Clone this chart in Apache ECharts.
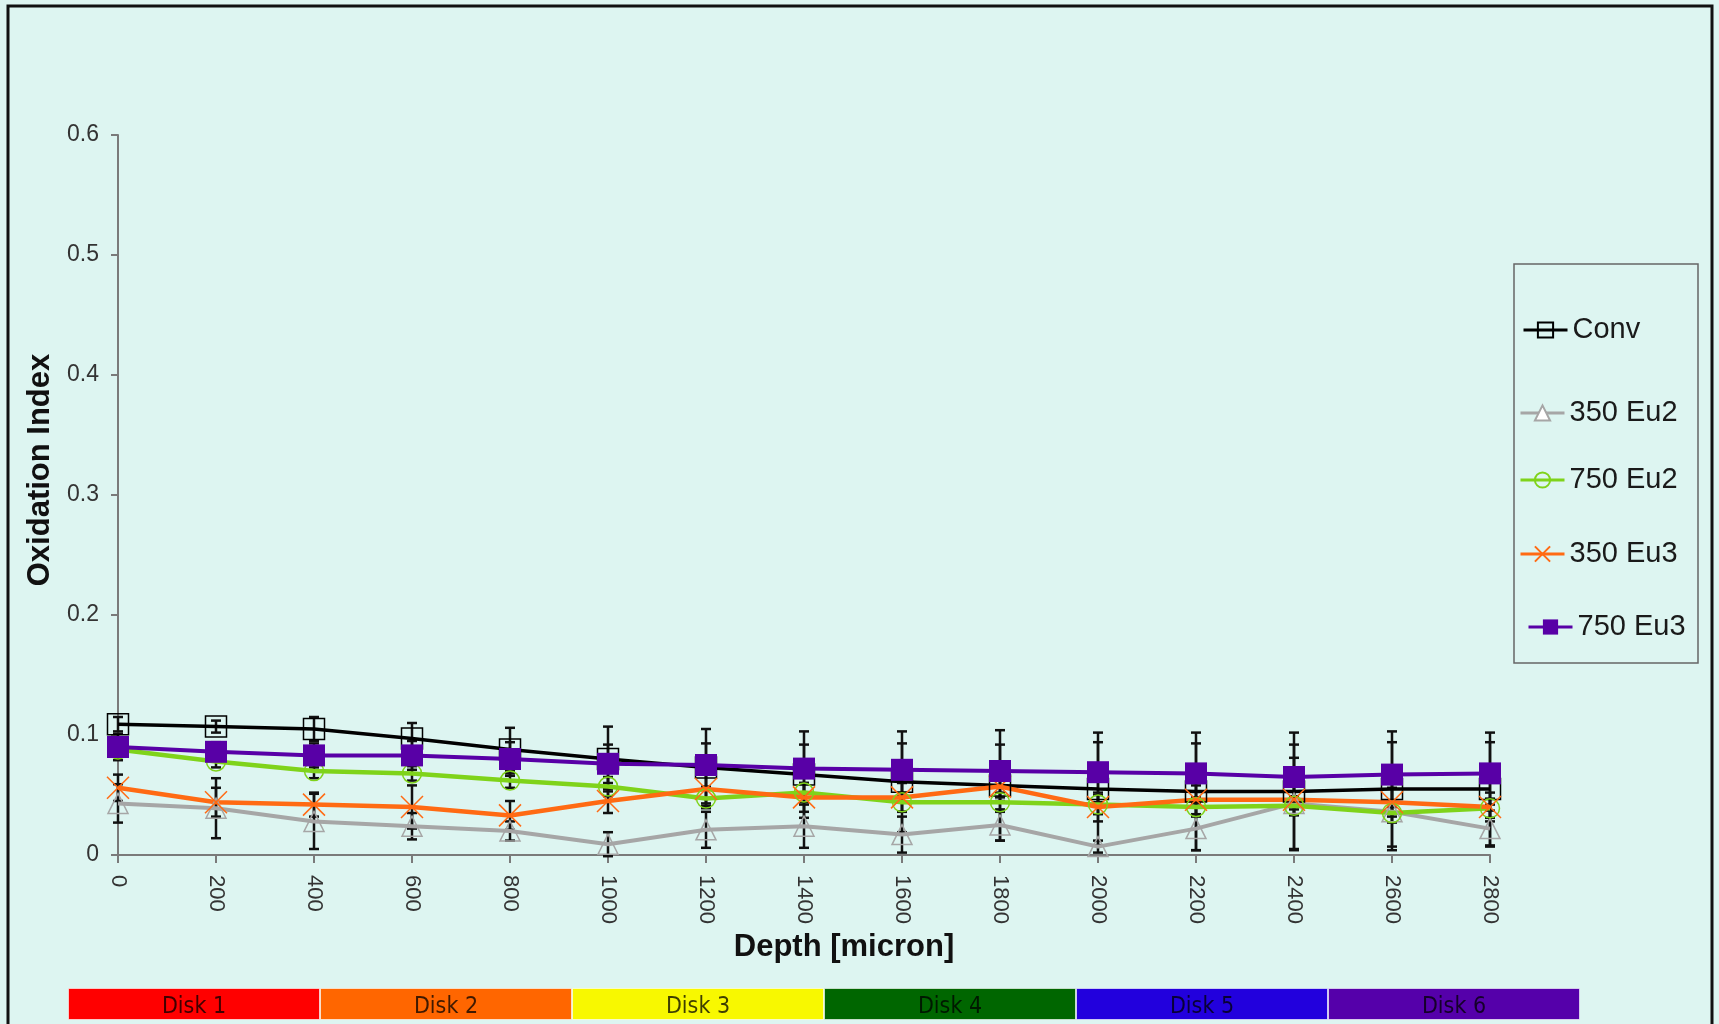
<!DOCTYPE html>
<html>
<head>
<meta charset="utf-8">
<title>Oxidation Index vs Depth</title>
<script src="https://cdn.jsdelivr.net/npm/echarts@6/dist/echarts.min.js"></script>
<style>
  html, body { margin: 0; padding: 0; background: #ddf5f1; }
  #chart { width: 1719px; height: 1024px; }
</style>
</head>
<body>
<div id="chart"></div>
<script>
// depth positions (micron)
const depths = [0, 200, 400, 600, 800, 1000, 1200, 1400, 1600, 1800, 2000, 2200, 2400, 2600, 2800];

// mean oxidation index per series
const conv    = [0.109, 0.107, 0.105, 0.097, 0.088, 0.080, 0.073, 0.067, 0.061, 0.058, 0.055, 0.053, 0.053, 0.055, 0.055];
const eu2_350 = [0.043, 0.039, 0.028, 0.024, 0.020, 0.009, 0.021, 0.024, 0.017, 0.025, 0.007, 0.022, 0.043, 0.036, 0.022];
const eu2_750 = [0.088, 0.078, 0.070, 0.068, 0.062, 0.057, 0.047, 0.052, 0.044, 0.044, 0.042, 0.040, 0.041, 0.035, 0.039];
const eu3_350 = [0.056, 0.044, 0.042, 0.040, 0.033, 0.045, 0.055, 0.048, 0.048, 0.057, 0.040, 0.046, 0.046, 0.044, 0.040];
const eu3_750 = [0.090, 0.086, 0.083, 0.083, 0.080, 0.076, 0.075, 0.072, 0.071, 0.070, 0.069, 0.068, 0.065, 0.067, 0.068];

// +/- error (standard deviation), estimated from the whiskers
const convErr    = [0.006, 0.005, 0.010, 0.013, 0.018, 0.027, 0.032, 0.036, 0.042, 0.046, 0.047, 0.049, 0.049, 0.048, 0.047];
const eu2_350Err = [0.016, 0.025, 0.023, 0.011, 0.008, 0.010, 0.015, 0.018, 0.015, 0.013, 0.005, 0.018, 0.038, 0.032, 0.015];
const eu2_750Err = [0.004, 0.005, 0.006, 0.006, 0.006, 0.008, 0.008, 0.008, 0.008, 0.008, 0.008, 0.008, 0.008, 0.008, 0.008];
const eu3_350Err = [0.011, 0.012, 0.010, 0.018, 0.012, 0.010, 0.012, 0.012, 0.012, 0.012, 0.012, 0.012, 0.012, 0.012, 0.012];
const eu3_750Err = [0.011, 0.008, 0.010, 0.012, 0.014, 0.016, 0.018, 0.020, 0.022, 0.022, 0.025, 0.025, 0.027, 0.027, 0.026];

const seriesNames = ['Conventional', '350 Eu2', '750 Eu2', '350 Eu3', '750 Eu3'];

// disk strip under the axis
const diskLabels = ['Disk 1', 'Disk 2', 'Disk 3', 'Disk 4', 'Disk 5', 'Disk 6'];
const diskColors = ['#ff0000', '#ff6600', '#f8f800', '#006600', '#2200dd', '#5500aa'];

const FONT = "'Liberation Sans', Arial, Helvetica, sans-serif";
const NARROW = "'Liberation Sans Narrow', 'DejaVu Sans Condensed', 'Arial Narrow', sans-serif";
const CROSS = 'path://M0,0L20,20M20,0L0,20';

const styles = [
    { color: '#000000', symbol: 'rect', size: 21, width: 3.5, fill: 'rgba(0,0,0,0)', border: 1.5 },
    { color: '#a6a6a6', symbol: 'triangle', size: 20, width: 4, fill: 'rgba(0,0,0,0)', border: 1.5 },
    { color: '#7fd31a', symbol: 'circle', size: 19, width: 4.5, fill: 'rgba(0,0,0,0)', border: 1.5 },
    { color: '#ff6a13', symbol: CROSS, size: 22, width: 4.5, fill: '#ff6a13', border: 1.5 },
    { color: '#5800a6', symbol: 'rect', size: 22, width: 4, fill: '#5800a6', border: 0 },
];
const values = [conv, eu2_350, eu2_750, eu3_350, eu3_750];
const errors = [convErr, eu2_350Err, eu2_750Err, eu3_350Err, eu3_750Err];

const chart = echarts.init(document.getElementById('chart'), null, { renderer: 'canvas' });

// error bar: vertical whisker with caps
const renderErr = (params, api) => {
    const top = api.coord([api.value(0), api.value(2)]);
    const bot = api.coord([api.value(0), api.value(1)]);
    const cap = 5;
    const st = { stroke: '#111', lineWidth: 2.5 };
    return {
        type: 'group',
        children: [
            { type: 'line', shape: { x1: top[0], y1: top[1], x2: bot[0], y2: bot[1] }, style: st },
            { type: 'line', shape: { x1: top[0] - cap, y1: top[1], x2: top[0] + cap, y2: top[1] }, style: st },
            { type: 'line', shape: { x1: bot[0] - cap, y1: bot[1], x2: bot[0] + cap, y2: bot[1] }, style: st },
        ],
    };
};

const lineSeries = seriesNames.map((name, i) => ({
    name,
    type: 'line',
    xAxisIndex: 0,
    yAxisIndex: 0,
    data: depths.map((d, k) => [d, values[i][k]]),
    symbol: styles[i].symbol,
    symbolSize: styles[i].size,
    lineStyle: { color: styles[i].color, width: styles[i].width },
    itemStyle: { color: styles[i].fill, borderColor: styles[i].color, borderWidth: styles[i].border },
    z: 3 + (i === 4 ? 1 : 0),
    animation: false,
}));

const errSeries = seriesNames.map((name, i) => ({
    name: name + ' err',
    type: 'custom',
    xAxisIndex: 0,
    yAxisIndex: 0,
    renderItem: renderErr,
    data: depths.map((d, k) => [d, values[i][k] - errors[i][k], values[i][k] + errors[i][k]]),
    z: 2,
    silent: true,
    animation: false,
}));

// legend placement (one legend per entry, as in the original box)
const legendPos = [
    { left: 1522, top: 315 },
    { left: 1519, top: 398 },
    { left: 1519, top: 465 },
    { left: 1519, top: 539 },
    { left: 1527, top: 612 },
];
const legends = seriesNames.map((name, i) => ({
    data: [i === 1 ? { name, itemStyle: { color: '#ffffff' } } : name],
    left: legendPos[i].left,
    top: legendPos[i].top,
    padding: 0,
    itemWidth: 44,
    itemHeight: 19,
    selectedMode: false,
    lineStyle: { width: 3 },
    textStyle: {
        fontFamily: FONT,
        fontSize: 29,
        lineHeight: 30,
        color: '#1a1a1a',
        width: i === 0 ? 72 : undefined,
        overflow: i === 0 ? 'truncate' : 'none',
        ellipsis: '',
    },
}));

const option = {
    backgroundColor: '#ddf5f1',
    animation: false,
    textStyle: { fontFamily: FONT },
    graphic: [
        {
            type: 'rect', silent: true, z: -1,
            shape: { x: 8, y: 6, width: 1704, height: 1100 },
            style: { fill: 'none', stroke: '#111', lineWidth: 3 },
        },
        {
            type: 'rect', silent: true, z: -1,
            shape: { x: 1514, y: 264, width: 184, height: 399 },
            style: { fill: 'none', stroke: '#666', lineWidth: 1.5 },
        },
    ],
    legend: legends,
    grid: [
        { left: 118, top: 135, width: 1372, height: 720 },
        { left: 68, top: 988, width: 1512, height: 32 },
    ],
    xAxis: [
        {
            type: 'value',
            gridIndex: 0,
            min: 0,
            max: 2800,
            interval: 200,
            name: 'Depth [micron]',
            nameLocation: 'middle',
            nameGap: 75,
            nameTextStyle: {
                fontFamily: FONT, fontSize: 31, fontWeight: 'bold', color: '#111',
                padding: [0, 0, 0, 80],
            },
            axisLine: { lineStyle: { color: '#7a7a7a', width: 2 } },
            axisTick: { length: 8, lineStyle: { color: '#7a7a7a', width: 2 } },
            axisLabel: {
                rotate: -90, margin: 20, fontSize: 22, color: '#333', fontFamily: FONT,
                formatter: (v) => String(v),
            },
            splitLine: { show: false },
        },
        {
            type: 'category',
            gridIndex: 1,
            data: diskLabels,
            show: false,
        },
    ],
    yAxis: [
        {
            type: 'value',
            gridIndex: 0,
            min: 0,
            max: 0.6,
            interval: 0.1,
            name: 'Oxidation Index',
            nameLocation: 'middle',
            nameRotate: 90,
            nameGap: 62,
            nameTextStyle: {
                fontFamily: FONT, fontSize: 31, fontWeight: 'bold', color: '#111',
                padding: [0, 0, 0, 50],
            },
            axisLine: { show: true, lineStyle: { color: '#7a7a7a', width: 2 } },
            axisTick: { show: true, length: 7, lineStyle: { color: '#7a7a7a', width: 2 } },
            axisLabel: { margin: 19, fontSize: 23, color: '#333', fontFamily: FONT },
            splitLine: { show: false },
        },
        {
            type: 'value',
            gridIndex: 1,
            min: 0,
            max: 1,
            show: false,
        },
    ],
    series: [
        ...errSeries,
        ...lineSeries,
        {
            type: 'bar',
            xAxisIndex: 1,
            yAxisIndex: 1,
            barWidth: '100%',
            barCategoryGap: 0,
            silent: true,
            data: diskLabels.map((d, i) => ({
                value: 1,
                itemStyle: { color: diskColors[i], borderColor: 'rgba(255,255,255,0.6)', borderWidth: 1 },
            })),
            label: {
                show: true,
                position: 'inside',
                offset: [0, 3],
                formatter: '{b}',
                fontFamily: NARROW,
                fontSize: 23,
                color: 'rgba(0,0,0,0.75)',
            },
        },
    ],
};

chart.setOption(option);
</script>
</body>
</html>
